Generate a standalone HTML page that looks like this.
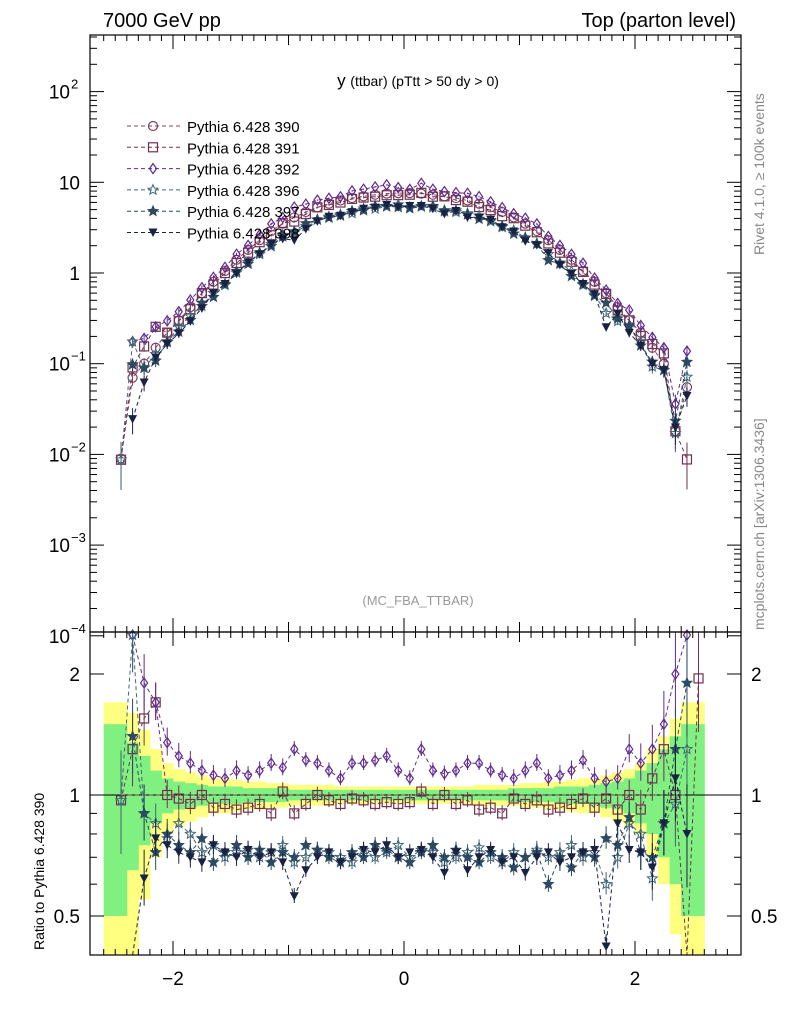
<!DOCTYPE html>
<html><head><meta charset="utf-8"><style>
body{margin:0;background:#fff;font-family:"Liberation Sans",sans-serif}
svg text{font-family:"Liberation Sans",sans-serif}
</style></head><body>
<svg id="c" width="786" height="1024" xmlns="http://www.w3.org/2000/svg">
<text x="103" y="27" font-size="20">7000 GeV pp</text>
<text x="736" y="27" font-size="20" text-anchor="end">Top (parton level)</text>
<text x="418" y="86" font-size="17" text-anchor="middle">y <tspan font-size="14">(ttbar) (pTtt &gt; 50 dy &gt; 0)</tspan></text>
<text x="418" y="605" font-size="13" fill="#999" text-anchor="middle">(MC_FBA_TTBAR)</text>
<text transform="translate(764,255) rotate(-90)" font-size="14" fill="#888">Rivet 4.1.0, ≥ 100k events</text>
<text transform="translate(764,630) rotate(-90)" font-size="14" fill="#888">mcplots.cern.ch [arXiv:1306.3436]</text>
<text transform="translate(44,950) rotate(-90)" font-size="14">Ratio to Pythia 6.428 390</text>
<g id="bands"></g><g id="main"></g><g id="ratio"></g><g id="axes"></g><g id="legend"></g>
</svg>
<script>
const binCenters=[-2.55,-2.45,-2.35,-2.25,-2.15,-2.05,-1.95,-1.85,-1.75,-1.65,-1.55,-1.45,-1.35,-1.25,-1.15,-1.05,-0.95,-0.85,-0.75,-0.65,-0.55,-0.45,-0.35,-0.25,-0.15,-0.05,0.05,0.15,0.25,0.35,0.45,0.55,0.65,0.75,0.85,0.95,1.05,1.15,1.25,1.35,1.45,1.55,1.65,1.75,1.85,1.95,2.05,2.15,2.25,2.35,2.45,2.55];
const base390=[null,0.009,0.07,0.1,0.15,0.22,0.3,0.42,0.6,0.8,1.05,1.4,1.8,2.3,2.9,3.5,4.1,4.7,5.3,5.8,6.3,6.7,7.0,7.3,7.5,7.6,7.6,7.5,7.3,7.0,6.7,6.3,5.8,5.3,4.7,4.1,3.5,2.9,2.3,1.8,1.4,1.05,0.8,0.6,0.42,0.3,0.22,0.15,0.1,0.018,0.055,null];
const ratio391=[null,0.97,1.3,1.55,1.7,1.0,0.98,0.95,1.0,0.93,0.95,0.92,0.93,0.95,0.9,1.02,0.9,0.95,1.0,0.97,0.95,0.98,0.97,0.95,0.96,0.95,0.96,1.02,0.95,1.0,0.95,0.97,0.92,0.93,0.9,0.98,0.95,0.97,0.92,0.93,0.95,0.98,0.93,0.98,0.92,1.0,0.92,1.1,1.3,1.0,0.16,1.95];
const ratio392=[null,null,2.5,1.9,1.7,1.35,1.25,1.2,1.15,1.12,1.1,1.15,1.12,1.15,1.2,1.17,1.3,1.22,1.2,1.15,1.1,1.2,1.2,1.22,1.25,1.15,1.1,1.3,1.15,1.13,1.15,1.2,1.2,1.15,1.12,1.1,1.15,1.2,1.1,1.12,1.15,1.22,1.1,1.08,1.1,1.3,1.2,1.3,1.5,2.0,2.5,null];
const ratio396=[null,0.97,2.5,0.9,0.85,0.78,0.85,0.8,0.72,0.75,0.7,0.72,0.73,0.7,0.72,0.75,0.68,0.7,0.73,0.72,0.7,0.68,0.73,0.7,0.72,0.75,0.7,0.73,0.72,0.68,0.7,0.72,0.74,0.7,0.68,0.72,0.7,0.73,0.7,0.72,0.75,0.7,0.72,0.6,0.7,0.85,0.8,0.62,0.85,0.95,1.3,null];
const ratio397=[null,null,1.4,0.9,0.72,0.8,0.75,0.72,0.78,0.68,0.72,0.75,0.7,0.73,0.68,0.72,0.7,0.75,0.73,0.7,0.68,0.72,0.7,0.75,0.73,0.7,0.68,0.72,0.75,0.7,0.73,0.7,0.68,0.72,0.7,0.66,0.7,0.72,0.6,0.7,0.66,0.72,0.7,0.78,0.75,0.88,0.72,0.7,0.85,1.3,1.9,null];
const ratio398=[null,null,0.35,0.62,0.78,0.75,0.72,0.7,0.68,0.75,0.72,0.7,0.73,0.7,0.72,0.68,0.56,0.65,0.7,0.72,0.68,0.7,0.73,0.72,0.75,0.7,0.72,0.73,0.7,0.64,0.72,0.65,0.7,0.73,0.68,0.7,0.64,0.7,0.72,0.68,0.7,0.72,0.73,0.42,0.85,0.73,0.72,0.66,0.85,1.1,0.8,null];
const bandGreen=[0.5,0.5,0.35,0.25,0.15,0.1,0.08,0.07,0.06,0.05,0.05,0.05,0.04,0.04,0.04,0.04,0.03,0.03,0.03,0.03,0.03,0.03,0.03,0.03,0.03,0.03,0.03,0.03,0.03,0.03,0.03,0.03,0.03,0.03,0.03,0.04,0.04,0.04,0.04,0.05,0.05,0.05,0.06,0.07,0.08,0.1,0.15,0.2,0.3,0.4,0.5,0.5];
const bandYellow=[0.7,0.7,0.6,0.45,0.3,0.2,0.16,0.14,0.12,0.1,0.1,0.09,0.08,0.08,0.07,0.07,0.06,0.06,0.06,0.06,0.05,0.05,0.05,0.05,0.05,0.05,0.05,0.05,0.05,0.05,0.05,0.05,0.06,0.06,0.06,0.06,0.07,0.07,0.08,0.08,0.09,0.1,0.1,0.12,0.14,0.16,0.2,0.3,0.4,0.55,0.7,0.7];
const xTicks=[-2,0,2];
const yTicksMain=[2,1,0,-1,-2,-3,-4];
const yTicksRatio=[0.5,1,2];
const legendNames=["Pythia 6.428 390","Pythia 6.428 391","Pythia 6.428 392","Pythia 6.428 396","Pythia 6.428 397","Pythia 6.428 398"];

const NS="http://www.w3.org/2000/svg";
const L=90,R=741,T=35,MB=632,RB=955;
const X=v=>404+v*115.5;
const Y=v=>273-Math.log10(v)*90.7;
const YR=v=>795-Math.log10(v)*402;
function mk(tag,attrs,parent){const e=document.createElementNS(NS,tag);for(const k in attrs)e.setAttribute(k,attrs[k]);parent.appendChild(e);return e;}
const g={bands:document.getElementById('bands'),main:document.getElementById('main'),ratio:document.getElementById('ratio'),axes:document.getElementById('axes'),legend:document.getElementById('legend')};
const clampR=v=>Math.max(632,Math.min(955,YR(v)));

[[bandYellow,'#ffff80'],[bandGreen,'#80f080']].forEach(([b,col],k)=>{
  binCenters.forEach((c,i)=>{
    const r=mk('rect',{x:X(c-0.05),y:clampR(1+b[i]),width:115.5*0.1+0.5,height:clampR(Math.max(0.01,1-b[i]))-clampR(1+b[i]),fill:col},g.bands);
    
    
  });
});
mk('line',{x1:L,x2:R,y1:YR(1),y2:YR(1),stroke:'#000','stroke-width':1},g.bands);

const series=[
 {r:null,col:'#804060',m:'circle'},
 {r:ratio391,col:'#703050',m:'square'},
 {r:ratio392,col:'#602a90',m:'diamond'},
 {r:ratio396,col:'#406878',m:'star'},
 {r:ratio397,col:'#2c4a62',m:'starf'},
 {r:ratio398,col:'#1a2244',m:'tri'}];
function marker(m,x,y,col,parent){
  let e;
  if(m==='circle')e=mk('circle',{cx:x,cy:y,r:4.5,fill:'none',stroke:col,'stroke-width':1.2},parent);
  else if(m==='square')e=mk('rect',{x:x-4.5,y:y-4.5,width:9,height:9,fill:'none',stroke:col,'stroke-width':1.2},parent);
  else if(m==='diamond')e=mk('polygon',{points:`${x},${y-5} ${x+3.5},${y} ${x},${y+5} ${x-3.5},${y}`,fill:'none',stroke:col,'stroke-width':1.2},parent);
  else if(m==='tri')e=mk('polygon',{points:`${x-4.5},${y-4} ${x+4.5},${y-4} ${x},${y+4.5}`,fill:col},parent);
  else{let p=[];for(let k=0;k<10;k++){const a=-Math.PI/2+k*Math.PI/5,rr=k%2?2.3:5.2;p.push((x+rr*Math.cos(a)).toFixed(1)+','+(y+rr*Math.sin(a)).toFixed(1));}
    e=mk('polygon',{points:p.join(' '),fill:m==='starf'?col:'none',stroke:col,'stroke-width':1},parent);}
  return e;
}
series.forEach((s,si)=>{
  const vals=binCenters.map((c,i)=>{if(base390[i]==null)return null;if(!s.r)return base390[i];return s.r[i]==null?null:base390[i]*s.r[i];});
  const rat=binCenters.map((c,i)=>s.r?s.r[i]:(base390[i]==null?null:1));
  const pts=[];
  binCenters.forEach((c,i)=>{if(vals[i]!=null)pts.push(X(c).toFixed(1)+','+Y(vals[i]).toFixed(1));});
  const pl=mk('polyline',{points:pts.join(' '),fill:'none',stroke:s.col,'stroke-width':1,'stroke-dasharray':'4,3'},g.main);
  
  
  binCenters.forEach((c,i)=>{if(vals[i]==null)return;
    const y=Y(vals[i]),err=Math.min(0.97,0.05/Math.sqrt(vals[i]));
    mk('line',{x1:X(c),x2:X(c),y1:Y(vals[i]*(1+err)),y2:Math.min(MB,Y(Math.max(1e-6,vals[i]*(1-err)))),stroke:s.col,'stroke-width':1},g.main);
    const e=marker(s.m,X(c),y,s.col,g.main);
    
    
  });
  const rp=[];
  binCenters.forEach((c,i)=>{if(rat[i]!=null)rp.push(X(c).toFixed(1)+','+clampR(rat[i]).toFixed(1));});
  const rl=mk('polyline',{points:rp.join(' '),fill:'none',stroke:s.col,'stroke-width':1,'stroke-dasharray':'4,3'},g.ratio);
  
  
  binCenters.forEach((c,i)=>{if(rat[i]==null||!s.r)return;
    const y=YR(rat[i]);if(y<632||y>955)return;
    const re=0.03+0.6*(bandGreen[i]);
    mk('line',{x1:X(c),x2:X(c),y1:clampR(rat[i]*(1+re)),y2:clampR(rat[i]*(1-re*0.8)),stroke:s.col,'stroke-width':1},g.ratio);
    const e=marker(s.m,X(c),y,s.col,g.ratio);
    
    
  });
  const ly=126+si*21.3;
  mk('line',{x1:127,x2:180,y1:ly,y2:ly,stroke:s.col,'stroke-width':1,'stroke-dasharray':'4,3'},g.legend);
  marker(s.m,153,ly,s.col,g.legend);
  const t=mk('text',{x:187,y:ly+6,'font-size':15},g.legend);t.textContent=legendNames[si];
  
  
});

mk('rect',{x:L,y:T,width:R-L,height:MB-T,fill:'none',stroke:'#000','stroke-width':1.2},g.axes);
mk('rect',{x:L,y:MB,width:R-L,height:RB-MB,fill:'none',stroke:'#000','stroke-width':1.2},g.axes);
for(let v=-2.6;v<=2.9;v+=0.1){const x=X(v),major=Math.abs(v-Math.round(v))<0.01,len=major?(Math.round(v)%2===0?14:10):6;
  [[T,1],[MB,-1],[MB,1],[RB,-1]].forEach(([y0,d])=>mk('line',{x1:x,x2:x,y1:y0,y2:y0+d*len,stroke:'#000'},g.axes));}
xTicks.forEach(v=>{const t=mk('text',{x:X(v),y:985,'font-size':19,'text-anchor':'middle'},g.axes);t.textContent=v<0?'−'+(-v):v;
  });
for(let d=-4;d<=2;d++){const y=Y(Math.pow(10,d));
  mk('line',{x1:L,x2:L+14,y1:y,y2:y,stroke:'#000'},g.axes);mk('line',{x1:R,x2:R-14,y1:y,y2:y,stroke:'#000'},g.axes);
  for(let k=2;k<10;k++){const yy=Y(k*Math.pow(10,d));if(yy<T)continue;mk('line',{x1:L,x2:L+7,y1:yy,y2:yy,stroke:'#000'},g.axes);mk('line',{x1:R,x2:R-7,y1:yy,y2:yy,stroke:'#000'},g.axes);}}
yTicksMain.forEach(d=>{const y=Y(Math.pow(10,d));let t;
  if(d===0||d===1){t=mk('text',{x:80,y:y+7,'font-size':19,'text-anchor':'end'},g.axes);t.textContent=d?'10':'1';}
  else{t=mk('text',{x:70,y:y+7,'font-size':19,'text-anchor':'end'},g.axes);t.textContent='10';
    const s=mk('text',{x:71,y:y-3,'font-size':13},g.axes);s.textContent=d<0?'−'+(-d):d;}
  });
[0.5,0.6,0.7,0.8,0.9,1,2].forEach(v=>{const y=YR(v),len=(v===0.5||v===1||v===2)?14:7;
  mk('line',{x1:L,x2:L+len,y1:y,y2:y,stroke:'#000'},g.axes);mk('line',{x1:R,x2:R-len,y1:y,y2:y,stroke:'#000'},g.axes);});
yTicksRatio.forEach(v=>{const y=YR(v);
  const a=mk('text',{x:80,y:y+7,'font-size':19,'text-anchor':'end'},g.axes);a.textContent=v;
  
  const b=mk('text',{x:751,y:y+7,'font-size':19},g.axes);b.textContent=v;
  });
</script>
</body></html>
